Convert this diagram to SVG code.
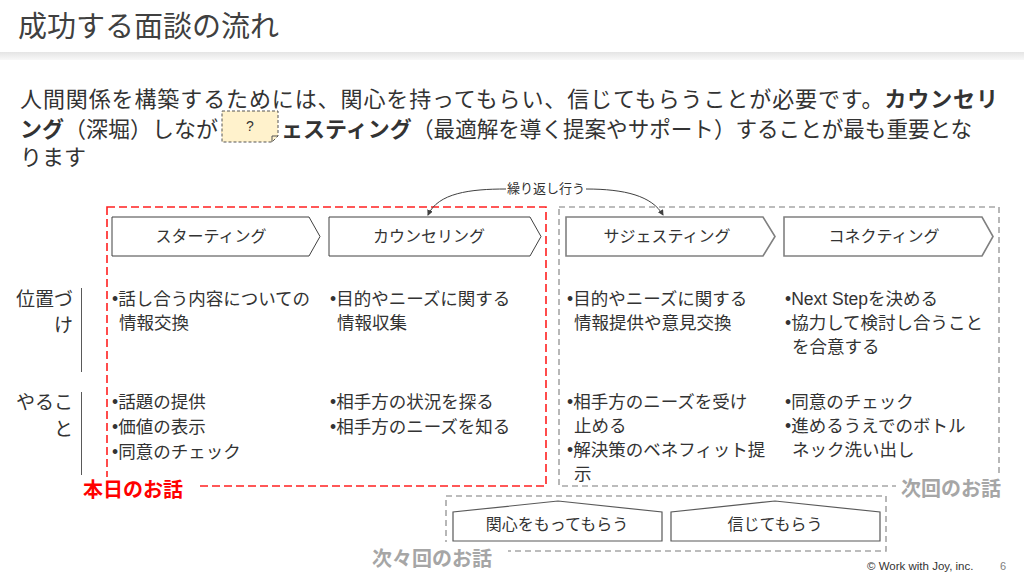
<svg xmlns="http://www.w3.org/2000/svg" width="1024" height="576" viewBox="0 0 1024 576">
<style>
text{font-family:"Liberation Sans","Noto Sans CJK JP",sans-serif;fill:#333}
.title{font-size:29px;fill:#404040}
.body{font-size:22px}
.b{font-weight:bold}
.chev{font-size:16px;text-anchor:middle}
.col{font-size:17.5px}
.side{font-size:19px;text-anchor:end}
.tag{font-size:20px;font-weight:bold}
.small{font-size:13px}
.dark{fill:#fff;stroke:#404040;stroke-width:1}
.gray{fill:#fff;stroke:#808080;stroke-width:1.6}
.house{fill:#fff;stroke:#595959;stroke-width:1.2}
.conn{fill:none;stroke:#404040;stroke-width:1}
</style>
<defs>
<linearGradient id="sh" x1="0" y1="0" x2="0" y2="1">
<stop offset="0" stop-color="#e4e4e4"/>
<stop offset="1" stop-color="#f8f8f8"/>
</linearGradient>
<marker id="ah" viewBox="0 0 6 6" refX="5" refY="3" markerWidth="6" markerHeight="6" orient="auto" markerUnits="userSpaceOnUse">
<path d="M0,0 L6,3 L0,6 Z" fill="#404040"/>
</marker>
</defs>
<rect x="0" y="0" width="1024" height="576" fill="#fff"/>
<rect x="0" y="52" width="1024" height="8" fill="url(#sh)"/>
<g id="title"><text class="title" x="18" y="37">成功する面談の流れ</text></g>

<g id="intro">
<text class="body" x="20" y="107" textLength="978" lengthAdjust="spacing">人間関係を構築するためには、関心を持ってもらい、信じてもらうことが必要です。<tspan class="b">カウンセリ</tspan></text>
<text class="body" y="137"><tspan x="20" class="b">ング</tspan><tspan>（深堀）しながら</tspan><tspan x="281" class="b">ェスティング</tspan><tspan x="412" textLength="560" lengthAdjust="spacingAndGlyphs">（最適解を導く提案やサポート）することが最も重要とな</tspan></text>
<text class="body" x="20" y="165">ります</text>
<path d="M222,111 H278 V136 L272,142 H222 Z" fill="#fff2cc" stroke="#555" stroke-width="1" stroke-dasharray="3 2"/>
<path d="M278,136 L272,136 L272,142" fill="none" stroke="#555" stroke-width="1"/>
<text x="250" y="131" font-size="14" text-anchor="middle">?</text>
</g>

<g id="today-frame">
<rect x="107" y="207" width="439" height="279" fill="none" stroke="#ff2020" stroke-width="1.6" stroke-dasharray="8 4"/>
<rect x="78" y="477" width="120" height="24" fill="#fff"/>
<text class="tag" x="83" y="497" style="fill:#ff0000">本日のお話</text>
</g>
<g id="next-frame">
<rect x="559" y="207" width="440" height="279" fill="none" stroke="#a6a6a6" stroke-width="1.6" stroke-dasharray="6 4"/>
<rect x="896" y="476" width="114" height="25" fill="#fff"/>
<text class="tag" x="901" y="496" style="fill:#a6a6a6">次回のお話</text>
</g>
<g id="after-next-frame">
<rect x="446" y="496" width="440" height="55" fill="none" stroke="#a6a6a6" stroke-width="1.6" stroke-dasharray="6 4"/>
<rect x="368" y="542" width="140" height="30" fill="#fff"/>
<text class="tag" x="372" y="566" style="fill:#a6a6a6">次々回のお話</text>
</g>

<g id="starting">
<path class="dark" d="M112,217 H309 L320,236.5 L309,256 H112 Z"/>
<text class="chev" x="211" y="242">スターティング</text>
</g>
<g id="counseling">
<path class="dark" d="M329,217 H530 L541,236.5 L530,256 H329 Z"/>
<text class="chev" x="429" y="242">カウンセリング</text>
</g>
<g id="suggesting">
<path class="gray" d="M566,217 H763 L775,236.5 L763,256 H566 Z"/>
<text class="chev" x="667" y="242">サジェスティング</text>
</g>
<g id="connecting">
<path class="gray" d="M784,217 H982 L993,236.5 L982,256 H784 Z"/>
<text class="chev" x="884" y="242">コネクティング</text>
</g>

<g id="connectors">
<path class="conn" d="M506,189 C470,189 438,193 428,215" marker-end="url(#ah)"/>
<path class="conn" d="M586,189 C625,189 652,196 663,215" marker-end="url(#ah)"/>
</g>
<g id="repeat-label"><text class="small" x="546" y="193" text-anchor="middle">繰り返し行う</text></g>

<g id="row-labels">
<text class="side" x="73" y="306">位置づ</text>
<text class="side" x="73" y="332">け</text>
<line x1="81.5" y1="288" x2="81.5" y2="372" stroke="#595959" stroke-width="1"/>
<text class="side" x="73" y="409">やるこ</text>
<text class="side" x="73" y="436">と</text>
<line x1="81.5" y1="392" x2="81.5" y2="475" stroke="#595959" stroke-width="1"/>
</g>

<g id="col-starting">
<text class="col" x="112" y="305">•話し合う内容についての</text>
<text class="col" x="119" y="329">情報交換</text>
<text class="col" x="112" y="408">•話題の提供</text>
<text class="col" x="112" y="433">•価値の表示</text>
<text class="col" x="112" y="458">•同意のチェック</text>
</g>
<g id="col-counseling">
<text class="col" x="330" y="305">•目的やニーズに関する</text>
<text class="col" x="337" y="329">情報収集</text>
<text class="col" x="330" y="408">•相手方の状況を探る</text>
<text class="col" x="330" y="433">•相手方のニーズを知る</text>
</g>
<g id="col-suggesting">
<text class="col" x="567" y="305">•目的やニーズに関する</text>
<text class="col" x="574" y="329">情報提供や意見交換</text>
<text class="col" x="567" y="408">•相手方のニーズを受け</text>
<text class="col" x="574" y="432">止める</text>
<text class="col" x="567" y="456">•解決策のベネフィット提</text>
<text class="col" x="574" y="480">示</text>
</g>
<g id="col-connecting">
<text class="col" x="785" y="305">•Next Stepを決める</text>
<text class="col" x="785" y="329">•協力して検討し合うこと</text>
<text class="col" x="792" y="353">を合意する</text>
<text class="col" x="785" y="408">•同意のチェック</text>
<text class="col" x="785" y="432">•進めるうえでのボトル</text>
<text class="col" x="792" y="456">ネック洗い出し</text>
</g>

<g id="interest">
<path class="house" d="M453,541 V512 L558,501 L662,512 V541 Z"/>
<text class="chev" x="557" y="530">関心をもってもらう</text>
</g>
<g id="trust">
<path class="house" d="M671,541 V512 L775,501 L880,512 V541 Z"/>
<text class="chev" x="775" y="530">信じてもらう</text>
</g>

<g id="footer">
<text x="867" y="570" font-size="11.5">© Work with Joy, inc.</text>
<text x="1000" y="570" font-size="11" style="fill:#808080">6</text>
</g>
</svg>
